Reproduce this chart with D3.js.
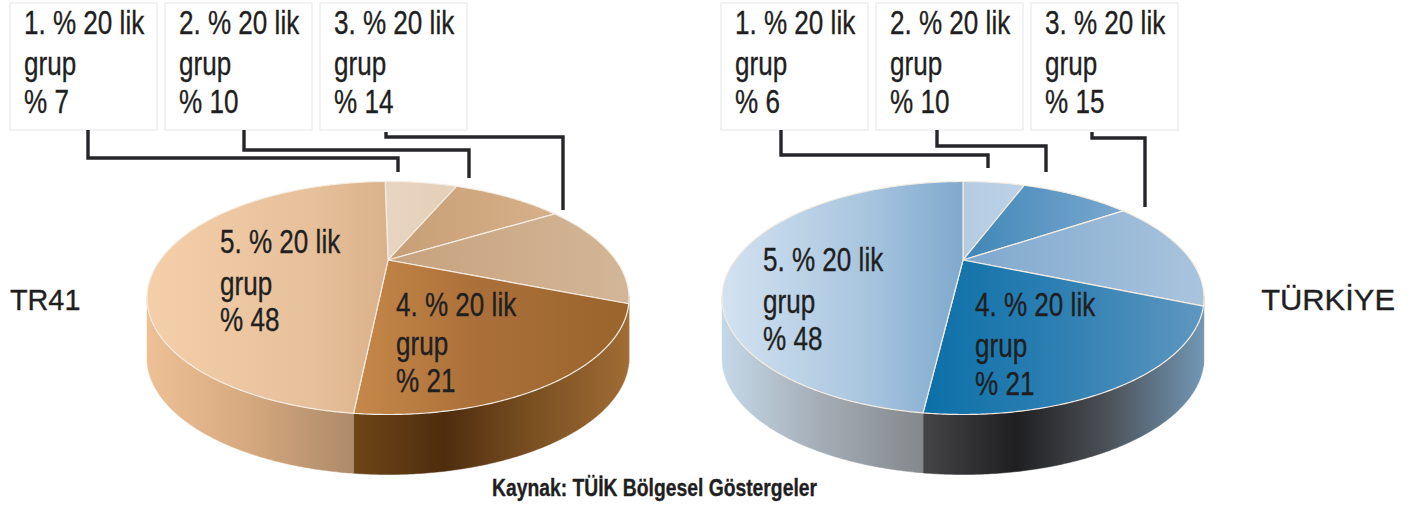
<!DOCTYPE html>
<html><head><meta charset="utf-8">
<script src="https://cdn.jsdelivr.net/npm/d3@7/dist/d3.min.js"></script>
<style>html,body{margin:0;background:#fff}svg{display:block}text{font-family:"Liberation Sans",Arial,sans-serif;fill:#1f1f22}</style>
</head><body><svg id="c" width="1414" height="506"></svg>
<script>
const groups = ["1. % 20 lik","2. % 20 lik","3. % 20 lik","4. % 20 lik","5. % 20 lik"];
const groupWord = "grup";
const tr41Values = [7,10,14,21,48];
const turkiyeValues = [6,10,15,21,48];
const tr41Name = "TR41";
const turkiyeName = "TÜRKİYE";
const sourceText = "Kaynak: TÜİK Bölgesel Göstergeler";

const svg = d3.select("#c"), defs = svg.append("defs");
const DEG = Math.PI/180;

const pies = [
 {id:"a",name:tr41Name,nameX:10,nameA:"start",nameSx:.96,values:tr41Values,cx:388,start:-1,
  boxX:[10,165,320],
  links:[[[88,130],[88,158],[398,158],[398,172]],[[244,130],[244,150],[469,150],[469,178]],[[386,132],[386,137],[563,137],[563,210]]],
  labels:{3:[396,316,355,392],4:[220,253,295,331]},labelBoxY:[34,75,113],
  face:[
   [[0,"#e8d5c1"],[1,"#e4cfb8"]],
   [[0,"#c79f76"],[1,"#d6b089"]],
   [[0,"#c7a27d"],[1,"#d3b698"]],
   [[0,"#c68849"],[.45,"#ab7039"],[1,"#9a642d"]],
   [[0,"#f4cfaa"],[.7,"#e6c09a"],[1,"#d9b18a"]]],
  wallL:[[0,"#eec096"],[.5,"#d5a87e"],[1,"#ad8a69"]],
  wallR:[[0,"#6e4518"],[.33,"#4e2d0e"],[.65,"#7a5022"],[1,"#a06c34"]]},
 {id:"b",name:turkiyeName,nameX:1395,nameA:"end",nameSx:1.03,values:turkiyeValues,cx:963,start:0,
  boxX:[721,876,1031],
  links:[[[781,130],[781,155],[988,155],[988,168]],[[937,130],[937,146],[1046,146],[1046,172]],[[1092,132],[1092,138],[1145,138],[1145,207]]],
  labels:{3:[975,316,357,395],4:[763,271,313,350]},labelBoxY:[34,75,113],
  face:[
   [[0,"#b4cbe2"],[1,"#bdd2e6"]],
   [[0,"#3f86b7"],[1,"#7aa8cf"]],
   [[0,"#7fa8cd"],[1,"#a9c4dd"]],
   [[0,"#0b70a8"],[.5,"#2f80b2"],[1,"#5f97c1"]],
   [[0,"#d3e2f0"],[.6,"#a8c5df"],[1,"#7fa9cd"]]],
  wallL:[[0,"#c5d8e8"],[.5,"#a3acb5"],[1,"#85888c"]],
  wallR:[[0,"#454548"],[.33,"#1f1f21"],[.65,"#4b5056"],[1,"#7297b5"]]}
];

const rx=241, ry=116.5, cy=298, depth=60, apexN=.326;

function gradient(id,x1,x2,stops){
  const g=defs.append("linearGradient").attr("id",id).attr("gradientUnits","userSpaceOnUse")
    .attr("x1",x1).attr("x2",x2).attr("y1",0).attr("y2",0);
  stops.forEach(s=>g.append("stop").attr("offset",s[0]).attr("stop-color",s[1]));
  return `url(#${id})`;
}
function rim(a){
  const dx=Math.sin(a),dy=Math.cos(a),pd=apexN*dy;
  const s=-pd+Math.sqrt(pd*pd-apexN*apexN+1);
  return [s*dx,apexN+s*dy];
}
const lineGen=d3.line();
function label(sel,s,x,y,size,sx,extra){
  const t=sel.append("text").attr("transform",`translate(${x},${y}) scale(${sx},1)`)
    .attr("font-size",size).attr("stroke","#1f1f22").attr("stroke-width",.35).text(s);
  if(extra) extra(t);
  return t;
}

pies.forEach(p=>{
  const x=d3.scaleLinear().domain([-1,1]).range([p.cx-rx,p.cx+rx]);
  const y=d3.scaleLinear().domain([-1,1]).range([cy+ry,cy-ry]);
  const g=svg.append("g");
  const arcs=d3.pie().sort(null).startAngle(p.start*DEG).endAngle((p.start+360)*DEG)(p.values);
  const sample=d=>d3.range(d.startAngle,d.endAngle,.5*DEG).concat([d.endAngle]).map(rim);

  arcs.forEach((d,i)=>{
    const pts=sample(d).filter(q=>q[1]<=0.02);
    if(pts.length<2) return;
    const top=pts.map(q=>[x(q[0]),y(q[1])]);
    const bot=top.slice().reverse().map(q=>[q[0],q[1]+depth]);
    const split=x(rim(arcs[4].startAngle)[0]);
    const fill=i===4?gradient(p.id+"wl",p.cx-rx,split,p.wallL):gradient(p.id+"wr"+i,split,p.cx+rx,p.wallR);
    g.append("path").attr("d",lineGen(top.concat(bot))+"Z").attr("fill",fill).attr("stroke",fill).attr("stroke-width",.5);
  });
  const ax=x(0), ay=y(apexN);
  arcs.forEach((d,i)=>{
    const pts=sample(d).map(q=>[x(q[0]),y(q[1])]);
    const ext=d3.extent(pts.concat([[ax,ay]]),q=>q[0]);
    g.append("path").attr("d",lineGen([[ax,ay]].concat(pts))+"Z")
      .attr("fill",gradient(p.id+"f"+i,ext[0],ext[1],p.face[i]))
      .attr("stroke","#f4ece2").attr("stroke-width",1.2).attr("stroke-linejoin","round");
  });
  [3,4].forEach(i=>{
    const L=p.labels[i];
    [groups[i],groupWord,"% "+p.values[i]].forEach((s,k)=>label(g,s,L[0],L[k+1],33,.79));
  });
  p.boxX.forEach((bx,i)=>{
    g.append("rect").attr("x",bx).attr("y",3).attr("width",147).attr("height",127)
      .attr("fill","#fff").attr("stroke","#eceef0").attr("stroke-width",1.5);
    [groups[i],groupWord,"% "+p.values[i]].forEach((s,k)=>label(g,s,bx+14,p.labelBoxY[k],33,.79));
    g.append("path").attr("d",lineGen(p.links[i])).attr("fill","none").attr("stroke","#26262a").attr("stroke-width",3.4);
  });
  label(g,p.name,p.nameX,310,30,p.nameSx,t=>t.attr("text-anchor",p.nameA));
});
label(svg,sourceText,492,496,23,.84,t=>t.attr("font-weight",700));
</script></body></html>
